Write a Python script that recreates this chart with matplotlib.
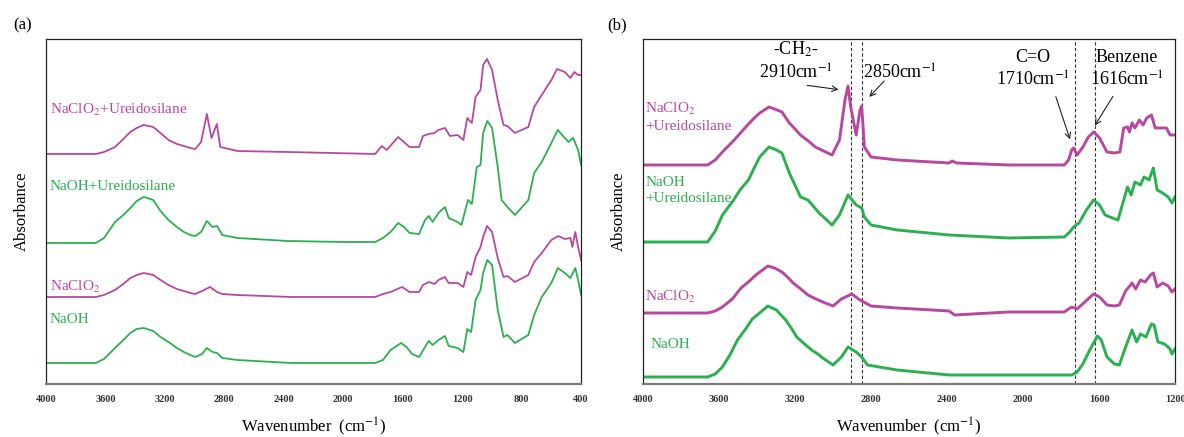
import matplotlib
matplotlib.use("Agg")
import matplotlib.pyplot as plt

plt.rcParams['font.family'] = ['Liberation Serif', 'DejaVu Serif']
plt.rcParams['mathtext.fontset'] = 'stix'

MAG = '#B8489F'
GRN = '#2BAF50'

# ---- panel (a): full range 4000-400 cm-1, stacked spectra (arbitrary offset units)
wn_a_clo2_si = [4000, 3665, 3610, 3536, 3480, 3433, 3390, 3343, 3279, 3230,
                3176, 3120, 3073, 3030, 2996, 2957,
                2918, 2887, 2851, 2828, 2712, 2377, 1785, 1741, 1708, 1631,
                1554, 1490, 1464, 1425, 1386, 1360, 1316, 1283, 1231, 1192,
                1166, 1135, 1110, 1077, 1059, 1033, 999, 961, 922, 896,
                845, 755, 716, 665, 600, 562, 510, 472, 446, 420, 400]
ab_a_clo2_si = [230, 230, 232, 237, 245, 252, 256, 259, 257, 251,
                244, 240, 238, 236, 235, 242,
                270, 246, 260, 237, 233, 232, 230, 238, 234, 247,
                237, 237, 248, 250, 251, 254, 256, 248, 249, 244,
                266, 261, 287, 294, 319, 325, 314, 284, 259, 258,
                251, 257, 277, 289, 304, 315, 312, 306, 312, 309, 309]

wn_a_naoh_si = [4000, 3665, 3610, 3536, 3480, 3433, 3390, 3343, 3279, 3230,
                3176, 3120, 3073, 3030, 2996, 2957,
                2918, 2880, 2849, 2815, 2712, 2377, 1991, 1785, 1733, 1682,
                1631, 1592, 1554, 1490, 1450, 1425, 1399, 1360, 1316, 1291,
                1231, 1205, 1179, 1161, 1135, 1102, 1077, 1059, 1031, 999,
                961, 935, 896, 845, 755, 716, 665, 600, 557, 510,
                485, 454, 420, 400]
ab_a_naoh_si = [141, 141, 146, 162, 169, 176, 183, 187, 184, 173,
                164, 157, 152, 149, 148, 152,
                163, 157, 158, 149, 146, 143, 142, 142, 146, 152,
                161, 157, 151, 150, 164, 168, 162, 171, 177, 166,
                162, 159, 174, 184, 180, 217, 219, 251, 263, 256,
                217, 184, 177, 169, 184, 211, 222, 241, 254, 246,
                242, 246, 234, 219]

wn_a_clo2 = [4000, 3665, 3610, 3536, 3480, 3433, 3390, 3343, 3279, 3230,
             3176, 3120, 3073, 3030, 2996, 2950, 2897, 2850,
             2815, 2712, 2351, 1785, 1733, 1682, 1605, 1554, 1490, 1464,
             1425, 1386, 1360, 1316, 1291, 1231, 1192, 1166, 1140, 1110,
             1077, 1059, 1033, 999, 961, 922, 896, 845, 755, 716,
             665, 600, 554, 510, 472, 459, 439, 420, 400]
ab_a_clo2 = [87, 87, 89, 94, 100, 106, 109, 111, 109, 104,
             99, 95, 93, 91, 90, 93, 97, 92,
             90, 89, 87, 87, 90, 92, 97, 92, 92, 99,
             102, 100, 104, 107, 101, 101, 97, 112, 109, 127,
             137, 147, 158, 152, 126, 107, 108, 102, 109, 122,
             131, 144, 148, 145, 146, 137, 152, 137, 124]

wn_a_naoh = [4000, 3665, 3610, 3536, 3480, 3433, 3390, 3343, 3279, 3230,
             3176, 3120, 3073, 3030, 2996, 2950, 2918,
             2880, 2849, 2815, 2712, 2351, 1785, 1733, 1682, 1611, 1575,
             1537, 1490, 1450, 1425, 1399, 1360, 1316, 1291, 1231, 1192,
             1166, 1140, 1110, 1077, 1059, 1031, 999, 961, 922, 896,
             845, 755, 716, 665, 600, 557, 510, 472, 439, 420, 400]
ab_a_naoh = [21, 21, 25, 36, 44, 51, 55, 56, 53, 47,
             42, 36, 32, 29, 27, 30, 36,
             32, 31, 26, 24, 21, 21, 24, 34, 41, 37,
             30, 27, 37, 43, 39, 44, 48, 38, 36, 32,
             55, 52, 84, 94, 111, 124, 119, 74, 47, 49,
             41, 49, 69, 87, 101, 116, 111, 106, 116, 104, 89]

# ---- panel (b): 4000-1200 cm-1
wn_b_clo2_si = [4000, 3660, 3620, 3582, 3520, 3464, 3420, 3386, 3337, 3308,
                3269, 3230, 3200, 3171, 3130, 3093, 3050, 3005, 2966, 2937,
                2921, 2907, 2878, 2858, 2849, 2835,
                2800, 2663, 2389, 2373, 2350, 2076, 1783, 1760, 1744, 1734,
                1715, 1685, 1656, 1627, 1597, 1558, 1519, 1490, 1470, 1450,
                1440, 1426, 1411, 1388, 1368, 1349, 1324, 1304, 1275, 1245,
                1226, 1200]
ab_b_clo2_si = [219, 219, 224, 232, 244, 256, 265, 271, 277, 275,
                272, 261, 255, 249, 243, 237, 233, 229, 244, 284,
                298, 277, 249, 274, 278, 237,
                227, 224, 221, 223, 221, 219, 219, 224, 234, 236,
                229, 237, 247, 252, 246, 232, 231, 232, 256, 257,
                252, 261, 256, 264, 259, 266, 269, 256, 256, 256,
                249, 249]

wn_b_naoh_si = [4000, 3660, 3620, 3582, 3523, 3490, 3445, 3415, 3386, 3337,
                3298, 3269, 3230,
                3171, 3132, 3073, 3005, 2966, 2921, 2878, 2849, 2835, 2800,
                2663, 2389, 2076, 1783, 1754, 1734, 1705, 1666, 1629, 1597,
                1568, 1529, 1500, 1470, 1450, 1431, 1411, 1382, 1363, 1337,
                1314, 1294, 1265, 1236, 1216, 1200]
ab_b_naoh_si = [142, 142, 153, 169, 184, 194, 204, 216, 227, 237,
                234, 231, 211,
                187, 184, 171, 159, 169, 189, 179, 176, 167, 159,
                154, 149, 146, 147, 152, 157, 161, 174, 184, 179,
                169, 166, 164, 184, 197, 189, 202, 199, 207, 204,
                216, 194, 191, 187, 181, 187]

wn_b_clo2 = [4000, 3660, 3620, 3582, 3530, 3484, 3440, 3406, 3343, 3308,
             3269, 3240, 3210, 3170, 3132, 3090, 3054,
             3000, 2956, 2901, 2858, 2800, 2663, 2389, 2360, 2076,
             1783, 1744, 1715, 1675, 1629, 1597, 1558, 1519, 1493, 1460,
             1426, 1407, 1382, 1357, 1329, 1314, 1294, 1265, 1236, 1216, 1200]
ab_b_clo2 = [71, 71, 73, 77, 85, 96, 103, 109, 118, 116,
             112, 107, 101, 95, 89, 85, 82,
             78, 85, 90, 84, 78, 76, 73, 69, 72,
             72, 77, 75, 82, 90, 87, 79, 78, 79, 93,
             101, 95, 104, 102, 109, 111, 97, 101, 98, 92, 95]

wn_b_naoh = [4000, 3660, 3620, 3582, 3540, 3503, 3460, 3425, 3380, 3343,
             3298, 3249, 3220, 3191, 3150, 3112, 3080, 3054,
             3000, 2956, 2921, 2878, 2849, 2819, 2663, 2389, 2076,
             1744, 1715, 1685, 1646, 1608, 1588, 1558, 1519, 1493, 1460,
             1426, 1402, 1382, 1353, 1324, 1310, 1290, 1255, 1226, 1216, 1200]
ab_b_naoh = [7, 7, 10, 17, 30, 44, 55, 65, 72, 78,
             74, 64, 56, 47, 40, 34, 30, 26,
             19, 27, 37, 32, 27, 19, 14, 9, 9,
             9, 12, 20, 35, 48, 44, 27, 20, 19, 37,
             54, 42, 50, 47, 60, 59, 42, 40, 35, 30, 35]

# dashed marker lines (as drawn) and tick values
band_lines = [2907, 2847, 1725, 1623]
ticks_a = [4000, 3600, 3200, 2800, 2400, 2000, 1600, 1200, 800, 400]
ticks_b = [4000, 3600, 3200, 2800, 2400, 2000, 1600, 1200]

fig = plt.figure(figsize=(11.84, 4.37), dpi=100)
ax1 = fig.add_axes([0.0389, 0.1213, 0.4519, 0.7895])
ax2 = fig.add_axes([0.5431, 0.1213, 0.4493, 0.7895])


def style(ax, ticks, xmin):
    ax.set_xlim(4000, xmin)
    ax.set_ylim(0, 345)
    ax.set_xticks(ticks)
    ax.set_xticklabels([str(t) for t in ticks], fontsize=7.5, fontweight='bold', color='#333333')
    ax.tick_params(axis='x', length=0, pad=8)
    ax.set_yticks([])
    for s in ['top', 'right', 'left']:
        ax.spines[s].set_color('#222222')
        ax.spines[s].set_linewidth(0.9)
    ax.spines['bottom'].set_color('#7a7a7a')
    ax.spines['bottom'].set_linewidth(1.6)
    ax.set_xlabel('Wavenumber  (cm$^{-1}$)', fontsize=12, labelpad=8)
    ax.set_ylabel('Absorbance', fontsize=12, labelpad=12)


# (a)
ax1.plot(wn_a_clo2_si, ab_a_clo2_si, color=MAG, lw=1.3)
ax1.plot(wn_a_naoh_si, ab_a_naoh_si, color=GRN, lw=1.3)
ax1.plot(wn_a_clo2, ab_a_clo2, color=MAG, lw=1.3)
ax1.plot(wn_a_naoh, ab_a_naoh, color=GRN, lw=1.3)
style(ax1, ticks_a, 400)
ax1.text(3975, 274, 'NaClO$_2$+Ureidosilane', color=MAG, fontsize=11, va='center')
ax1.text(3975, 197, 'NaOH+Ureidosilane', color=GRN, fontsize=11, va='center')
ax1.text(3975, 97, 'NaClO$_2$', color=MAG, fontsize=11, va='center')
ax1.text(3975, 64, 'NaOH', color=GRN, fontsize=11, va='center')

# (b)
for b in band_lines:
    ax2.axvline(b, color='#333333', lw=0.8, ls=(0, (3, 2)))
ax2.plot(wn_b_clo2_si, ab_b_clo2_si, color=MAG, lw=2.1)
ax2.plot(wn_b_naoh_si, ab_b_naoh_si, color=GRN, lw=2.1)
ax2.plot(wn_b_clo2, ab_b_clo2, color=MAG, lw=2.1)
ax2.plot(wn_b_naoh, ab_b_naoh, color=GRN, lw=2.1)
style(ax2, ticks_b, 1200)
ax2.text(3988, 267, 'NaClO$_2$\n+Ureidosilane', color=MAG, fontsize=11, va='center', linespacing=1.3)
ax2.text(3988, 193, 'NaOH\n+Ureidosilane', color=GRN, fontsize=11, va='center', linespacing=1.3)
ax2.text(3988, 87, 'NaClO$_2$', color=MAG, fontsize=11, va='center')
ax2.text(3963, 39, 'NaOH', color=GRN, fontsize=11, va='center')

ax2.text(3195, 335, '-CH$_2$-', fontsize=13, ha='center', va='center')
ax2.text(3195, 311, '2910cm$^{-1}$', fontsize=13, ha='center', va='center')
ax2.text(2650, 311, '2850cm$^{-1}$', fontsize=13, ha='center', va='center')
ax2.text(1949, 326, 'C=O', fontsize=13, ha='center', va='center')
ax2.text(1949, 304, '1710cm$^{-1}$', fontsize=13, ha='center', va='center')
ax2.text(1455, 326, 'Benzene', fontsize=13, ha='center', va='center')
ax2.text(1455, 304, '1616cm$^{-1}$', fontsize=13, ha='center', va='center')

arw = dict(arrowstyle='->', color='#222222', lw=0.8)
ax2.annotate('', xy=(2956, 294), xytext=(3150, 299), arrowprops=arw)
ax2.annotate('', xy=(2819, 285), xytext=(2721, 305), arrowprops=arw)
ax2.annotate('', xy=(1748, 242), xytext=(1832, 290), arrowprops=arw)
ax2.annotate('', xy=(1630, 256), xytext=(1519, 290), arrowprops=arw)

fig.text(0.011, 0.943, '(a)', fontsize=12, va='center')
fig.text(0.513, 0.943, '(b)', fontsize=12, va='center')

fig.savefig('out.png', dpi=100)
